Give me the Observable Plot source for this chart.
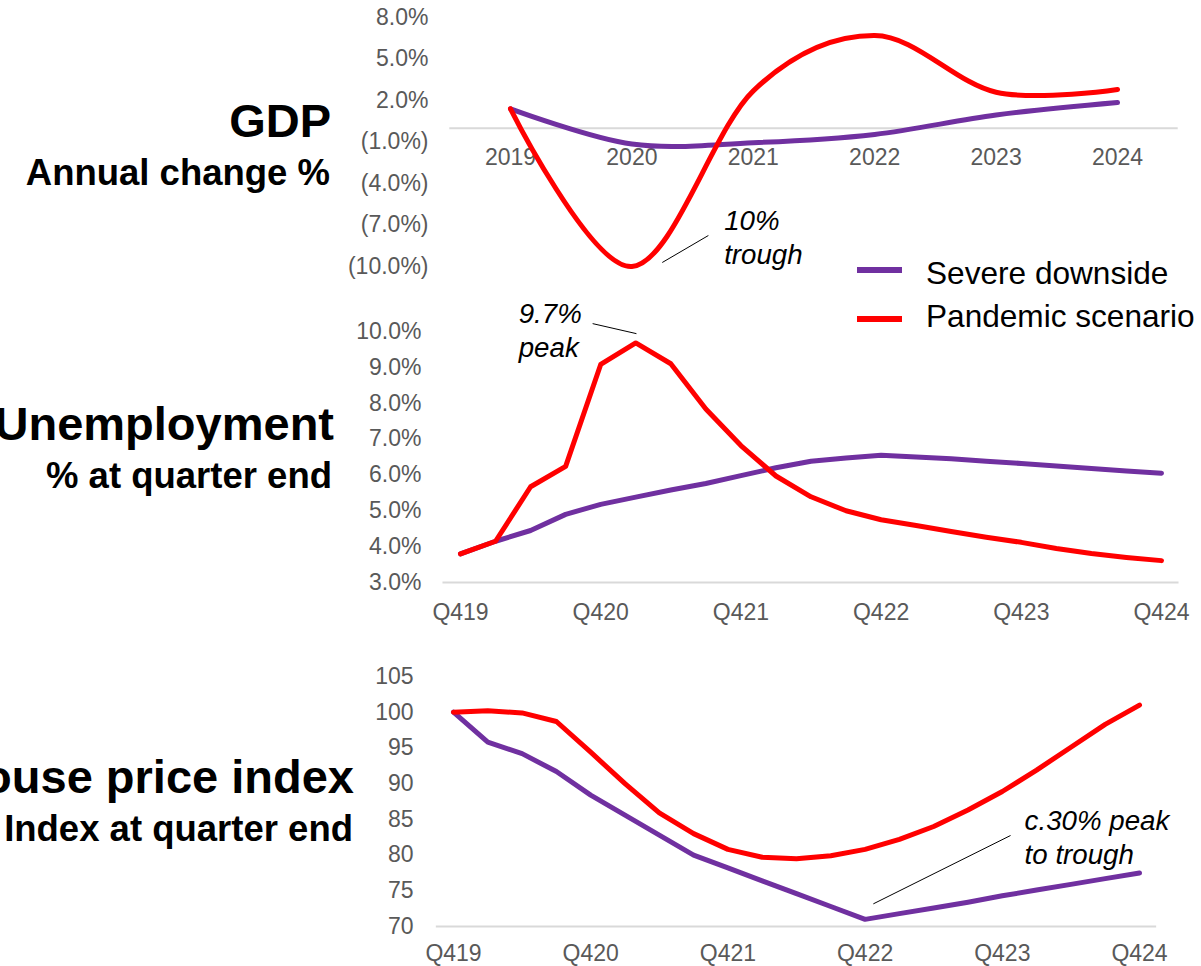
<!DOCTYPE html>
<html>
<head>
<meta charset="utf-8">
<script src="https://cdn.jsdelivr.net/npm/d3@7"></script>
<script src="https://cdn.jsdelivr.net/npm/@observablehq/plot@0.6"></script>
<style>
  body { margin: 0; background: #fff; }
  #wrap { position: relative; width: 1201px; height: 966px; overflow: hidden;
          font-family: "Liberation Sans", Arial, sans-serif; background: #fff; }
  .panel { position: absolute; left: 0; }
  .title { position: absolute; white-space: nowrap; line-height: 1; font-weight: bold;
           color: #000; text-align: right; }
  .legtext { position: absolute; white-space: nowrap; line-height: 1; color: #000; font-size: 31.6px; }
  .legline { position: absolute; width: 45px; height: 6px; }
</style>
</head>
<body>
<div id="wrap"></div>
<script>
// ---------- data ----------
const years = [2019, 2020, 2021, 2022, 2023, 2024];
const gdpSevere   = [1.4, -1.15, -1.05, -0.45, 0.95, 1.85];
const gdpPandemic = [1.4, -10.0, 2.7, 6.7, 2.6, 2.8];
const gdpTicks = [8, 5, 2, -1, -4, -7, -10];

const quarters = ["Q419","Q120","Q220","Q320","Q420","Q121","Q221","Q321","Q421",
                  "Q122","Q222","Q322","Q422","Q123","Q223","Q323","Q423",
                  "Q124","Q224","Q324","Q424"];
const unempSevere   = [3.8, 4.15, 4.45, 4.9, 5.18, 5.38, 5.58, 5.76, 5.98, 6.2, 6.38, 6.47, 6.55,
                       6.5, 6.45, 6.38, 6.32, 6.25, 6.18, 6.11, 6.05];
const unempPandemic = [3.8, 4.15, 5.67, 6.24, 9.08, 9.68, 9.1, 7.84, 6.82, 5.97, 5.39, 5.0, 4.75,
                       4.59, 4.42, 4.26, 4.12, 3.95, 3.81, 3.7, 3.61];
const unempTicks = [3, 4, 5, 6, 7, 8, 9, 10];

const hpiSevere   = [100, 95.8, 94.2, 91.7, 88.4, 85.6, 82.8, 80.0, 78.2, 76.4, 74.6, 72.8, 71.0,
                     71.8, 72.6, 73.4, 74.3, 75.1, 75.9, 76.7, 77.5];
const hpiPandemic = [100, 100.2, 99.9, 98.7, 94.4, 90.0, 85.9, 83.0, 80.8, 79.7, 79.5, 79.9, 80.8,
                     82.2, 84.0, 86.3, 88.9, 91.9, 95.1, 98.3, 101.0];
const hpiTicks = [70, 75, 80, 85, 90, 95, 100, 105];

const seriesNames = ["Severe downside", "Pandemic scenario"];
const seriesColors = ["#7030A0", "#FF0000"];

// annotations (data units)
const gdpNote   = {x: 2020.76, y: -5.64, text: "10%\ntrough", x1: 2020.25, y1: -9.71, x2: 2020.63, y2: -7.76};
const unempNote = {x: 1.66, y: 10.9, text: "9.7%\npeak", x1: 3.77, y1: 10.22, x2: 5.02, y2: 9.94};
const hpiNote   = {x: 16.65, y: 86.84, text: "c.30% peak\nto trough", x1: 12.24, y1: 73.17, x2: 16.24, y2: 82.74};

// ---------- helpers ----------
const FONT = '"Liberation Sans", Arial, sans-serif';
const GREY = "#595959";
const GRID = "#d9d9d9";
const LW = 5;

function lineMarks(data, x, curve) {
  return [
    Plot.line(data, {x, y: "severe", stroke: seriesColors[0], strokeWidth: LW, curve,
                     strokeLinecap: "round", strokeLinejoin: "round"}),
    Plot.line(data, {x, y: "pandemic", stroke: seriesColors[1], strokeWidth: LW, curve,
                     strokeLinecap: "round", strokeLinejoin: "round"})
  ];
}
function noteMarks(note) {
  return [
    Plot.link([note], {x1: "x1", y1: "y1", x2: "x2", y2: "y2", stroke: "#000", strokeWidth: 1}),
    Plot.text([note], {x: "x", y: "y", text: "text", textAnchor: "start", lineAnchor: "top",
                       fontStyle: "italic", fontSize: 27.7, lineHeight: 1.23, fill: "#000"})
  ];
}
const baseStyle = {fontFamily: FONT, fontSize: "23px", overflow: "visible", background: "transparent"};

const wrap = document.getElementById("wrap");
function place(svg, top) {
  svg.classList.add("panel");
  svg.style.top = top + "px";
  wrap.appendChild(svg);
}

// ---------- GDP ----------
const gdpData = years.map((y, i) => ({year: y, severe: gdpSevere[i], pandemic: gdpPandemic[i]}));
const pctParen = d => d < 0 ? `(${(-d).toFixed(1)}%)` : `${d.toFixed(1)}%`;
const gdpPlot = Plot.plot({
  width: 1201, height: 290,
  marginLeft: 510, marginRight: 84, marginTop: 17, marginBottom: 24,
  style: baseStyle,
  x: {domain: [years[0], years[years.length - 1]], axis: null},
  y: {domain: [gdpTicks[gdpTicks.length - 1], gdpTicks[0]], axis: null},
  marks: [
    Plot.ruleY([0], {x1: years[0] - 0.5, x2: years[years.length - 1] + 0.5, stroke: GRID, strokeWidth: 2}),
    Plot.axisY(gdpTicks, {tickSize: 0, tickPadding: 82, tickFormat: pctParen, fill: GREY, fontSize: 23, label: null}),
    Plot.text(years, {x: d => d, y: 0, dy: 29, text: d => String(d), fill: GREY, fontSize: 23}),
    ...lineMarks(gdpData, "year", "cardinal"),
    ...noteMarks(gdpNote)
  ]
});
place(gdpPlot, 0);

// ---------- Unemployment ----------
const qIdx = quarters.map((q, i) => i);
const q4 = qIdx.filter(i => quarters[i].startsWith("Q4"));
const unempData = qIdx.map(i => ({i, severe: unempSevere[i], pandemic: unempPandemic[i]}));
const unempPlot = Plot.plot({
  width: 1201, height: 340,
  marginLeft: 460, marginRight: 40, marginTop: 41, marginBottom: 48,
  style: baseStyle,
  x: {domain: [0, quarters.length - 1], axis: null},
  y: {domain: [unempTicks[0], unempTicks[unempTicks.length - 1]], axis: null},
  marks: [
    Plot.ruleY([unempTicks[0]], {x1: -0.5, x2: quarters.length - 0.5, stroke: GRID, strokeWidth: 2}),
    Plot.axisY(unempTicks, {tickSize: 0, tickPadding: 39, tickFormat: d => d.toFixed(1) + "%", fill: GREY, fontSize: 23, label: null}),
    Plot.text(q4, {x: d => d, y: unempTicks[0], dy: 30, text: d => quarters[d], fill: GREY, fontSize: 23}),
    ...lineMarks(unempData, "i", "linear"),
    ...noteMarks(unempNote)
  ]
});
place(unempPlot, 290);

// ---------- House price index ----------
const hpiData = qIdx.map(i => ({i, severe: hpiSevere[i], pandemic: hpiPandemic[i]}));
const hpiPlot = Plot.plot({
  width: 1201, height: 326,
  marginLeft: 453, marginRight: 62, marginTop: 36, marginBottom: 40,
  style: baseStyle,
  x: {domain: [0, quarters.length - 1], axis: null},
  y: {domain: [hpiTicks[0], hpiTicks[hpiTicks.length - 1]], axis: null},
  marks: [
    Plot.ruleY([hpiTicks[0]], {x1: -0.5, x2: quarters.length - 0.5, stroke: GRID, strokeWidth: 2}),
    Plot.axisY(hpiTicks, {tickSize: 0, tickPadding: 40, tickFormat: d => String(d), fill: GREY, fontSize: 23, label: null}),
    Plot.text(q4, {x: d => d, y: hpiTicks[0], dy: 27, text: d => quarters[d], fill: GREY, fontSize: 23}),
    ...lineMarks(hpiData, "i", "linear"),
    ...noteMarks(hpiNote)
  ]
});
place(hpiPlot, 640);

// ---------- titles (HTML) ----------
const titles = [
  {text: "GDP", size: 47, baseline: 137, right: 331},
  {text: "Annual change %", size: 36.5, baseline: 186, right: 330},
  {text: "Unemployment", size: 47, baseline: 440, right: 334},
  {text: "% at quarter end", size: 36.5, baseline: 489, right: 332},
  {text: "House price index", size: 47, baseline: 793, right: 354},
  {text: "Index at quarter end", size: 36.5, baseline: 842, right: 353}
];
titles.forEach(t => {
  const d = document.createElement("div");
  d.className = "title";
  d.textContent = t.text;
  d.style.fontSize = t.size + "px";
  d.style.right = (1201 - t.right) + "px";
  d.style.top = (t.baseline - 0.8465 * t.size) + "px";
  wrap.appendChild(d);
});

// ---------- legend (HTML) ----------
const legendRows = [{y: 270, baseline: 285}, {y: 319, baseline: 328}];
seriesNames.forEach((name, i) => {
  const ln = document.createElement("div");
  ln.className = "legline";
  ln.style.background = seriesColors[i];
  ln.style.left = "857px";
  ln.style.top = (legendRows[i].y - 3) + "px";
  wrap.appendChild(ln);
  const tx = document.createElement("div");
  tx.className = "legtext";
  tx.textContent = name;
  tx.style.left = "926px";
  tx.style.top = (legendRows[i].baseline - 0.8465 * 31.6) + "px";
  wrap.appendChild(tx);
});
</script>
</body>
</html>
